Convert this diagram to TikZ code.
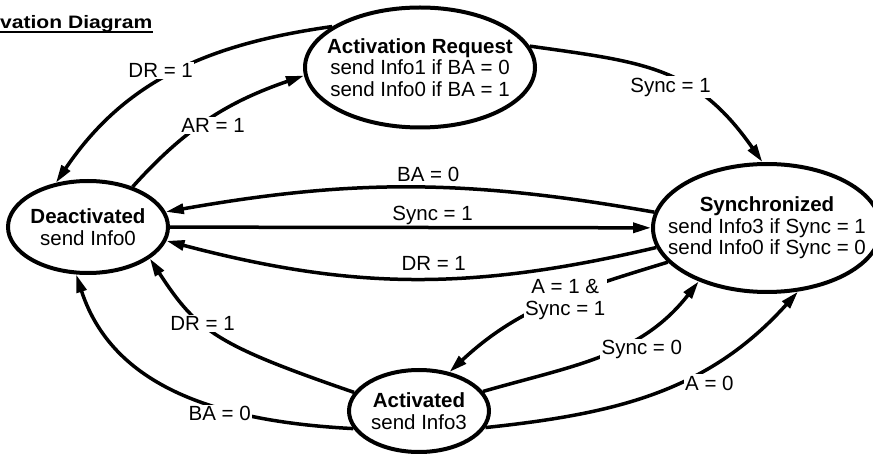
\documentclass[tikz,border=0pt]{standalone}
\usepackage{fontspec}
\setmainfont{Liberation Sans}
\usepackage{graphicx}
\usetikzlibrary{arrows.meta,shapes.geometric}
\newcommand{\txtfont}{\fontsize{20.5}{21.5}\selectfont}
\begin{document}
\begin{tikzpicture}[x=1pt,y=1pt,
  state/.style={ellipse, draw, line width=4pt, inner xsep=-30pt, inner ysep=0pt, align=center, font=\txtfont},
  edge/.style={line width=3.5pt, -{Triangle[length=18pt,width=10pt]}},
  lbl/.style={fill=white, inner sep=1.5pt, font=\txtfont},
  plainlbl/.style={inner sep=0pt, font=\txtfont},
]
\useasboundingbox (0,0) rectangle (873,-454);
% title
\node[anchor=base west, inner sep=0pt, font=\bfseries\fontsize{18}{18}\selectfont] (title) at (0,-29) {\scalebox{1.17}[1]{vation Diagram}};
\draw[line width=1.5pt] ([yshift=-3pt]title.base west) -- ([yshift=-3pt]title.base east);
% states
\node[state, minimum width=230pt, minimum height=120pt] (ar) at (420,-67.5) {\textbf{Activation Request}\\send Info1 if BA = 0\\send Info0 if BA = 1};
\node[state, minimum width=160pt, minimum height=92pt] (de) at (88,-227) {\textbf{Deactivated}\\send Info0};
\node[state, minimum width=228pt, minimum height=128pt] (sy) at (767,-228) {\textbf{Synchronized}\\send Info3 if Sync = 1\\send Info0 if Sync = 0};
\node[state, minimum width=140pt, minimum height=82pt] (ac) at (419,-411) {\textbf{Activated}\\send Info3};
% transitions
\draw[edge] (ar.155) to[out=188,in=56] node[lbl,pos=0.55,yshift=10pt]{DR = 1} (de.126);
\draw[edge] (de.42) to[out=48,in=199] node[lbl,xshift=3pt,yshift=-7pt]{AR = 1} (ar.184);
\draw[edge] (ar.11) to[out=-8,in=125,looseness=1.15] node[lbl,pos=0.52,xshift=2pt,yshift=-11pt]{Sync = 1} (sy.94);
\draw[edge] (sy.172) to[out=170,in=10] node[plainlbl,pos=0.46,above=4pt]{BA = 0} (de.11);
\draw[edge] (de) -- node[plainlbl,pos=0.546,above=1pt]{Sync = 1} (sy);
\draw[edge] (sy.190) to[bend left=14] node[plainlbl,pos=0.45,above=7pt]{DR = 1} (de.350);
\draw[edge] (sy.199) to[out=197,in=43] node[lbl,align=center,pos=0.43,yshift=-3pt]{A = 1 \&\\Sync = 1} (ac.52);
\draw[edge] (ac.17) to[out=16,in=232] node[lbl,pos=0.6,xshift=18pt,yshift=-5pt]{Sync = 0} (sy.218);
\draw[edge] (ac.346) to[out=6,in=228] node[lbl,pos=0.62,xshift=16pt,yshift=-8pt]{A = 0} (sy.296);
\draw[edge] (ac.164) to[out=161,in=303,out looseness=1.52,in looseness=0.91] node[lbl,pos=0.6]{DR = 1} (de.333);
\draw[edge] (ac.195) to[out=177,in=288] node[lbl,pos=0.38,yshift=-6pt]{BA = 0} (de.256);
\end{tikzpicture}
\end{document}
